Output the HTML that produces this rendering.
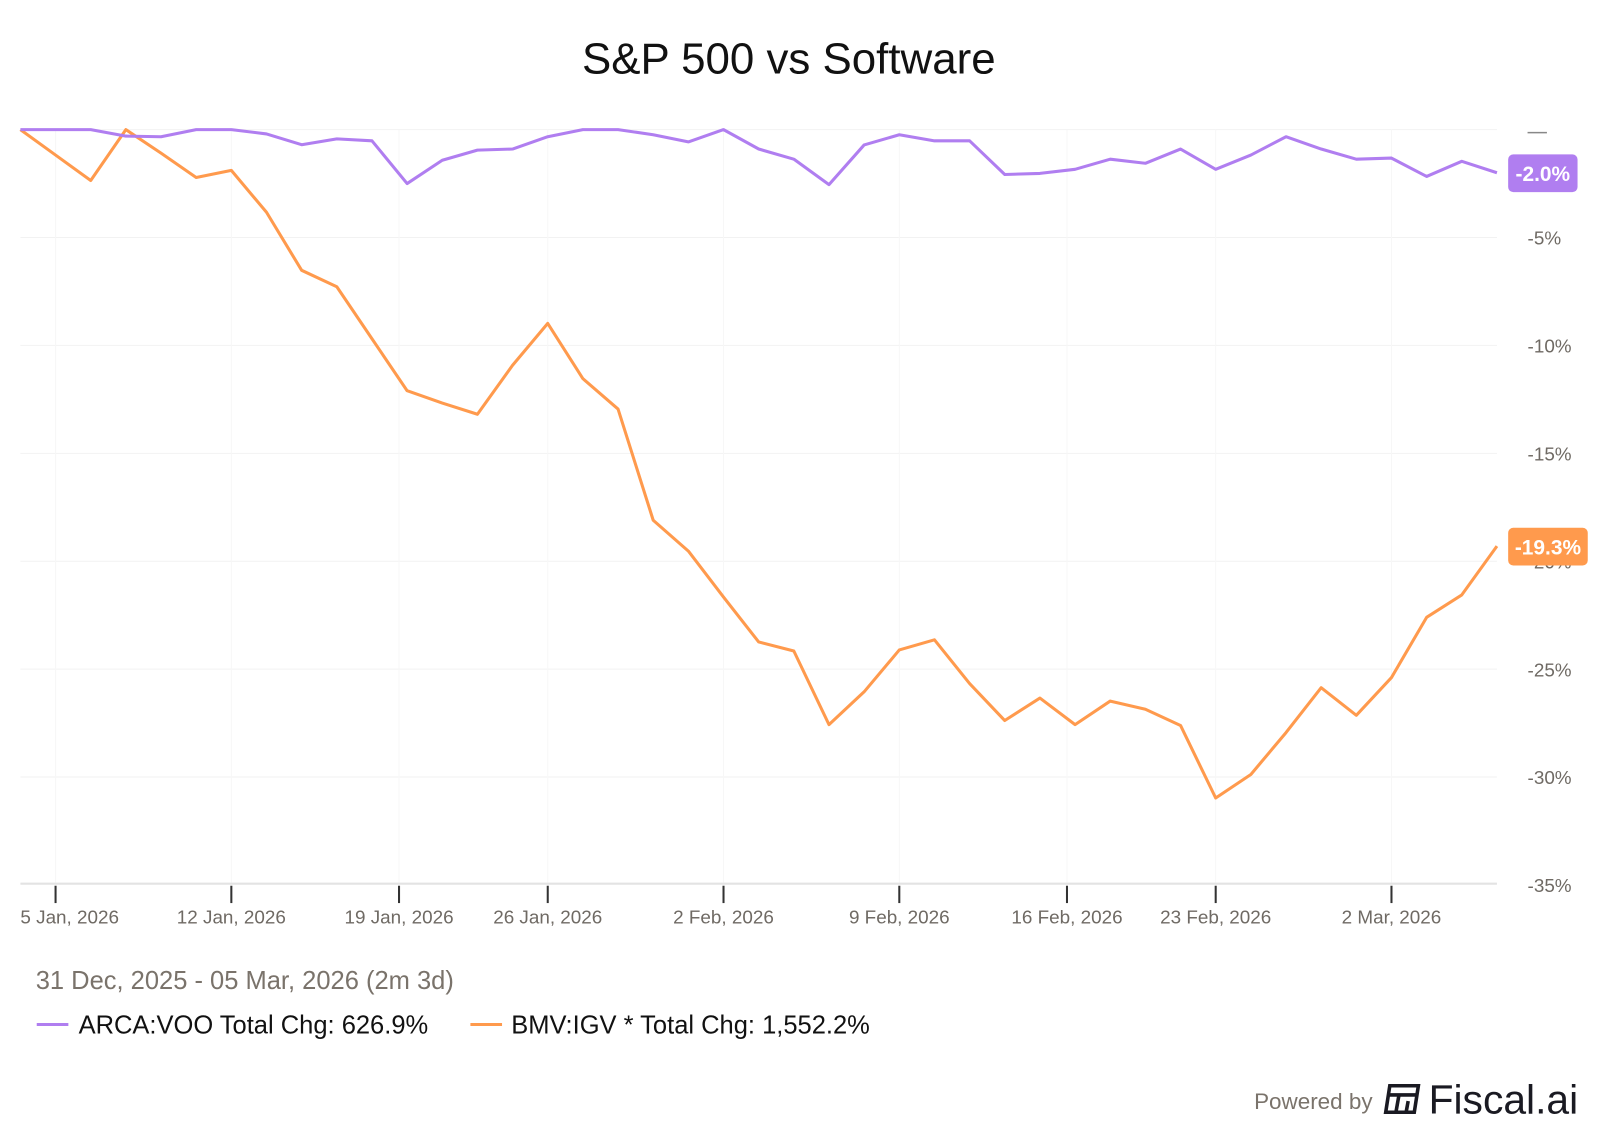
<!DOCTYPE html>
<html><head><meta charset="utf-8"><style>
html,body{margin:0;padding:0;background:#fff;}
svg{display:block;font-family:"Liberation Sans",Arial,sans-serif;}
</style></head><body>
<svg id="chart" width="1600" height="1134" viewBox="0 0 1568 1111.3" xmlns="http://www.w3.org/2000/svg">
<text x="773" y="72" font-size="43" text-anchor="middle" fill="#111">S&amp;P 500 vs Software</text>
<g id="grid"></g>
<g id="yaxis"></g>
<g id="xaxis"></g>
<g id="series"></g>
<g id="badges"></g>
<text x="35" y="969" font-size="25" fill="#7a736b">31 Dec, 2025 - 05 Mar, 2026 (2m 3d)</text>
<g>
<line x1="36" y1="1004" x2="67" y2="1004" stroke="#b07ef0" stroke-width="3"/>
<text x="77" y="1013" font-size="25" fill="#111">ARCA:VOO Total Chg: 626.9%</text></g>
<g>
<line x1="461" y1="1004" x2="492" y2="1004" stroke="#ff9a4d" stroke-width="3"/>
<text x="501" y="1013" font-size="25" fill="#111">BMV:IGV * Total Chg: 1,552.2%</text></g>
<g>
<text x="1229" y="1087" font-size="22" fill="#7a736b">Powered by</text>
<g transform="translate(1356,1062)" fill="none" stroke="#1a1a22" stroke-width="3.5">
<path d="M6 2 H34 L30 28 H2 Z"/><line x1="5" y1="11" x2="32" y2="11"/><line x1="15" y1="11" x2="12" y2="28"/><line x1="24" y1="17" x2="22" y2="28"/></g>
<text x="1400" y="1091" font-size="40" fill="#1a1a22">Fiscal.ai</text></g>
<script>
const purpleVals=[0,0,0,-0.3,-0.33,0,0,-0.2,-0.7,-0.43,-0.52,-2.5,-1.42,-0.95,-0.9,-0.33,0,0,-0.24,-0.57,0,-0.9,-1.37,-2.55,-0.71,-0.24,-0.52,-0.52,-2.08,-2.03,-1.84,-1.37,-1.56,-0.9,-1.84,-1.18,-0.33,-0.9,-1.37,-1.32,-2.17,-1.47,-2.0];
const orangeVals=[0,-1.18,-2.36,0,-1.09,-2.22,-1.89,-3.83,-6.52,-7.28,-9.69,-12.1,-12.67,-13.19,-10.92,-8.98,-11.54,-12.95,-18.1,-19.53,-21.66,-23.74,-24.16,-27.57,-26.05,-24.11,-23.64,-25.67,-27.38,-26.34,-27.57,-26.48,-26.86,-27.61,-30.97,-29.88,-27.94,-25.86,-27.14,-25.39,-22.6,-21.56,-19.3];
const yTicks=[0,-5,-10,-15,-20,-25,-30,-35];
const xTickLabels=["5 Jan, 2026","12 Jan, 2026","19 Jan, 2026","26 Jan, 2026","2 Feb, 2026","9 Feb, 2026","16 Feb, 2026","23 Feb, 2026","2 Mar, 2026"];
const xTickIdx=[1,6,10.77,15,20,25,29.77,34,39];
const NS="http://www.w3.org/2000/svg";
const X0=20,X1=1467,N=purpleVals.length;
const xs=i=>X0+i*(X1-X0)/(N-1);
const ys=v=>127+(-v)*21.15;
function mk(t,a,p){const e=document.createElementNS(NS,t);for(const k in a)e.setAttribute(k,a[k]);p.appendChild(e);return e;}
const grid=document.getElementById('grid'),ya=document.getElementById('yaxis'),xa=document.getElementById('xaxis'),se=document.getElementById('series'),bd=document.getElementById('badges');
yTicks.forEach((v,i)=>{
 if(v!==-35){const g=mk('line',{x1:X0,x2:X1,y1:ys(v),y2:ys(v),stroke:'#f2f2f2','stroke-width':1},grid);
 
 }
 let t;
 if(v===0){t=mk('line',{x1:1497,x2:1516,y1:ys(v)+3,y2:ys(v)+3,stroke:'#888','stroke-width':1.5},ya);}
 else{t=mk('text',{x:1497,y:ys(v)+7,'font-size':18.5,fill:'#6f6a64'},ya);t.textContent=v+'%';}
 
 
});
xTickIdx.forEach((ix,i)=>{
 const x=xs(ix);
 const g=mk('line',{x1:x,x2:x,y1:127,y2:866,stroke:'#f7f7f7','stroke-width':1},grid);
 
 
 const tk=mk('line',{x1:x,x2:x,y1:868,y2:885,stroke:'#333','stroke-width':2},xa);
 
 
 const t=mk('text',{x:i===0?20:x,y:905,'font-size':18.5,fill:'#6f6a64','text-anchor':i===0?'start':'middle'},xa);
 t.textContent=xTickLabels[i];
 
 
});
const ax=mk('line',{x1:X0,x2:X1,y1:866,y2:866,stroke:'#e3e3e3','stroke-width':2},xa);


function line(vals,color,name){
 const p=mk('polyline',{points:vals.map((v,i)=>xs(i)+','+ys(v)).join(' '),fill:'none',stroke:color,'stroke-width':3,'stroke-linejoin':'round'},se);
 
 
}
line(orangeVals,'#ff9a4d','igv-line');
line(purpleVals,'#b07ef0','voo-line');
function badge(v,color,name,w){
 const y=ys(v);
 const r=mk('rect',{x:1478,y:y-18,width:w,height:37,rx:5,fill:color},bd);
 
 
 const t=mk('text',{x:1478+w/2,y:y+8,'font-size':20.5,'font-weight':'bold',fill:'#fff','text-anchor':'middle'},bd);
 t.textContent=v.toFixed(1)+'%';
 
 
}
badge(purpleVals[N-1],'#b07ef0','voo-badge',68);
badge(orangeVals[N-1],'#ff9a4d','igv-badge',78);
</script>
</svg>
</body></html>
